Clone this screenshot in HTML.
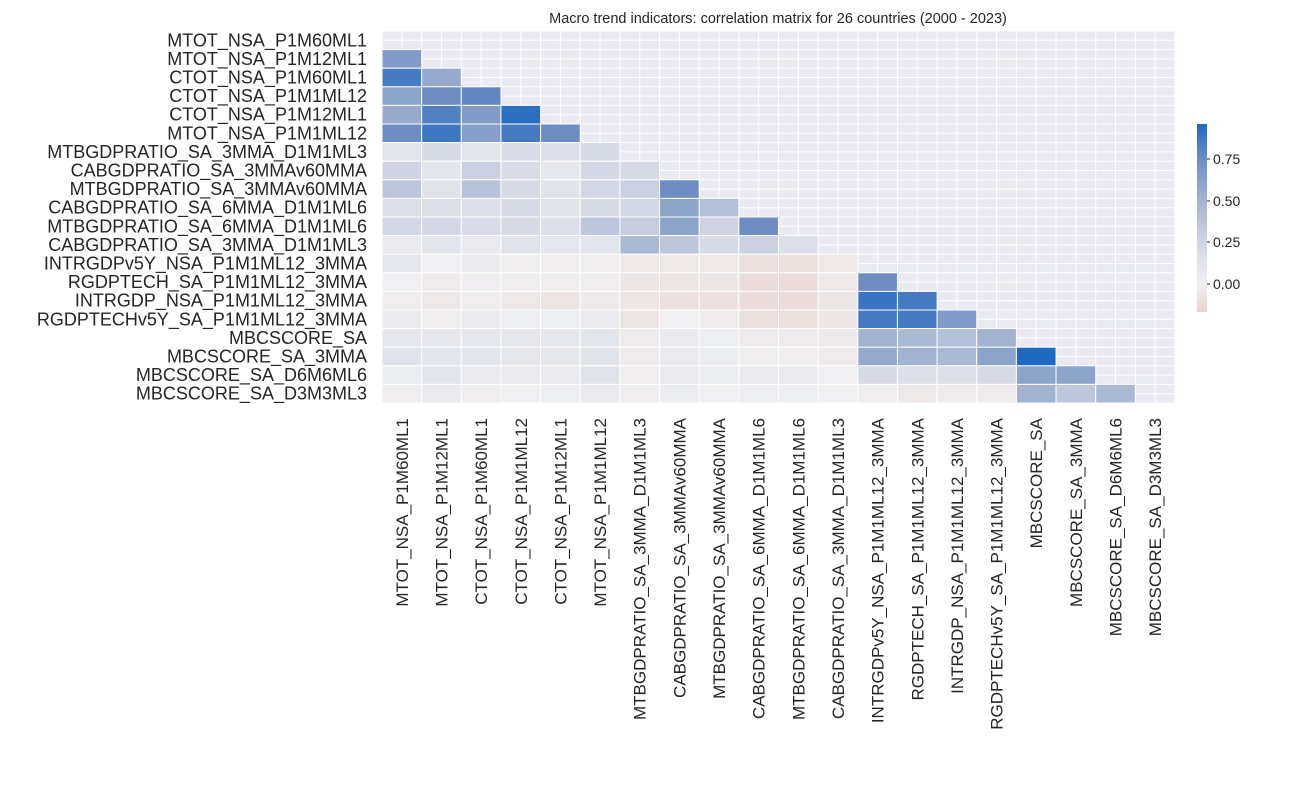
<!DOCTYPE html>
<html><head><meta charset="utf-8"><style>
body{margin:0;background:#fff;}
svg text{font-family:"Liberation Sans",Arial,sans-serif;fill:#262626;}
</style></head><body>
<svg id="s" width="1289" height="784" xmlns="http://www.w3.org/2000/svg"></svg>
<script>
const labels=["MTOT_NSA_P1M60ML1","MTOT_NSA_P1M12ML1","CTOT_NSA_P1M60ML1","CTOT_NSA_P1M1ML12","CTOT_NSA_P1M12ML1","MTOT_NSA_P1M1ML12","MTBGDPRATIO_SA_3MMA_D1M1ML3","CABGDPRATIO_SA_3MMAv60MMA","MTBGDPRATIO_SA_3MMAv60MMA","CABGDPRATIO_SA_6MMA_D1M1ML6","MTBGDPRATIO_SA_6MMA_D1M1ML6","CABGDPRATIO_SA_3MMA_D1M1ML3","INTRGDPv5Y_NSA_P1M1ML12_3MMA","RGDPTECH_SA_P1M1ML12_3MMA","INTRGDP_NSA_P1M1ML12_3MMA","RGDPTECHv5Y_SA_P1M1ML12_3MMA","MBCSCORE_SA","MBCSCORE_SA_3MMA","MBCSCORE_SA_D6M6ML6","MBCSCORE_SA_D3M3ML3"];
const V=[[],[0.65],[0.85,0.55],[0.6,0.75,0.78],[0.55,0.82,0.65,0.92],[0.75,0.87,0.62,0.85,0.75],
[0.1,0.2,0.1,0.18,0.15,0.2],[0.25,0.1,0.28,0.18,0.08,0.22,0.2],[0.35,0.12,0.38,0.2,0.12,0.22,0.28,0.75],
[0.15,0.15,0.15,0.2,0.12,0.2,0.22,0.6,0.4],[0.22,0.22,0.18,0.2,0.15,0.35,0.3,0.6,0.25,0.75],
[0.05,0.1,0.05,0.12,0.08,0.1,0.45,0.35,0.2,0.28,0.15],
[0.08,0,0.05,-0.02,-0.02,-0.02,-0.05,-0.05,-0.05,-0.1,-0.1,-0.05],
[0,-0.03,-0.01,-0.02,-0.02,-0.02,-0.06,-0.07,-0.06,-0.12,-0.12,-0.05,0.75],
[-0.02,-0.05,-0.02,-0.05,-0.07,-0.04,-0.07,-0.09,-0.09,-0.12,-0.12,-0.06,0.88,0.85],
[0.05,-0.02,0.05,0.02,0.02,0.05,-0.07,0,-0.03,-0.1,-0.1,-0.06,0.85,0.85,0.65],
[0.08,0.08,0.08,0.08,0.08,0.1,-0.03,0.05,0.02,-0.03,-0.03,-0.04,0.5,0.45,0.4,0.5],
[0.12,0.1,0.1,0.08,0.08,0.12,-0.03,0.05,0.03,-0.02,-0.02,-0.03,0.55,0.5,0.45,0.6,0.95],
[0.03,0.1,0.05,0.05,0.05,0.12,-0.02,0.05,0.03,0.05,0.05,0,0.2,0.15,0.15,0.2,0.6,0.6],
[-0.02,0.05,-0.02,0,0.02,0.05,-0.02,0.03,0,0.02,0.02,0,-0.02,-0.05,-0.03,-0.03,0.5,0.35,0.45]];
const stops=[[-0.17,[232,212,208]],[0,[240,240,242]],[0.25,[208,212,226]],[0.5,[162,178,208]],[0.75,[108,140,194]],[0.95,[33,105,192]]];
function rgb(v){v=Math.max(-0.17,Math.min(0.95,v));for(let k=0;k<stops.length-1;k++){const[a,ca]=stops[k],[b,cb]=stops[k+1];if(v<=b){const t=(v-a)/(b-a);return ca.map((x,i)=>Math.round(x+(cb[i]-x)*t));}}return stops[stops.length-1][1];}
function col(v){return "rgb("+rgb(v).join(",")+")";}
const X0=382,Y0=31,CW=39.65,CH=18.6,N=20;
let h='';
h+=`<rect x="${X0}" y="${Y0}" width="${CW*N}" height="${CH*N}" fill="#EAEAF2"/>`;
for(let k=0;k<=2*N;k++){h+=`<line x1="${X0+k*CW/2}" y1="${Y0}" x2="${X0+k*CW/2}" y2="${Y0+CH*N}" stroke="#fff" stroke-width="1"/>`;
h+=`<line x1="${X0}" y1="${Y0+k*CH/2}" x2="${X0+CW*N}" y2="${Y0+k*CH/2}" stroke="#fff" stroke-width="1"/>`;}
for(let i=0;i<N;i++)for(let j=0;j<i;j++){h+=`<rect x="${X0+j*CW}" y="${Y0+i*CH}" width="${CW}" height="${CH}" fill="${col(V[i][j])}" stroke="#fff" stroke-width="1"/>`;}
for(let i=0;i<N;i++){h+=`<text x="367" y="${Y0+i*CH+CH/2+6}" font-size="18" text-anchor="end">${labels[i]}</text>`;
 const cx=X0+i*CW+CW/2+6;h+=`<text transform="translate(${cx},418) rotate(-90)" font-size="17" text-anchor="end">${labels[i]}</text>`;}
h+=`<text x="778" y="23" font-size="14.5" text-anchor="middle">Macro trend indicators: correlation matrix for 26 countries (2000 - 2023)</text>`;
let g='';for(let k=0;k<=20;k++){const v=-0.17+1.12*k/20;g+=`<stop offset="${k/20}" stop-color="${col(v)}"/>`;}
h+=`<defs><linearGradient id="g" x1="0" y1="1" x2="0" y2="0">${g}</linearGradient></defs>`;
h+=`<rect x="1197" y="124" width="10" height="188" fill="url(#g)"/>`;
[[0.75,159],[0.5,201],[0.25,242],[0,284]].forEach(([v,y])=>{h+=`<line x1="1207" y1="${y}" x2="1210" y2="${y}" stroke="#262626"/><text x="1213" y="${y+5}" font-size="14">${v.toFixed(2)}</text>`;});
document.getElementById('s').innerHTML=h;
</script>
</body></html>
